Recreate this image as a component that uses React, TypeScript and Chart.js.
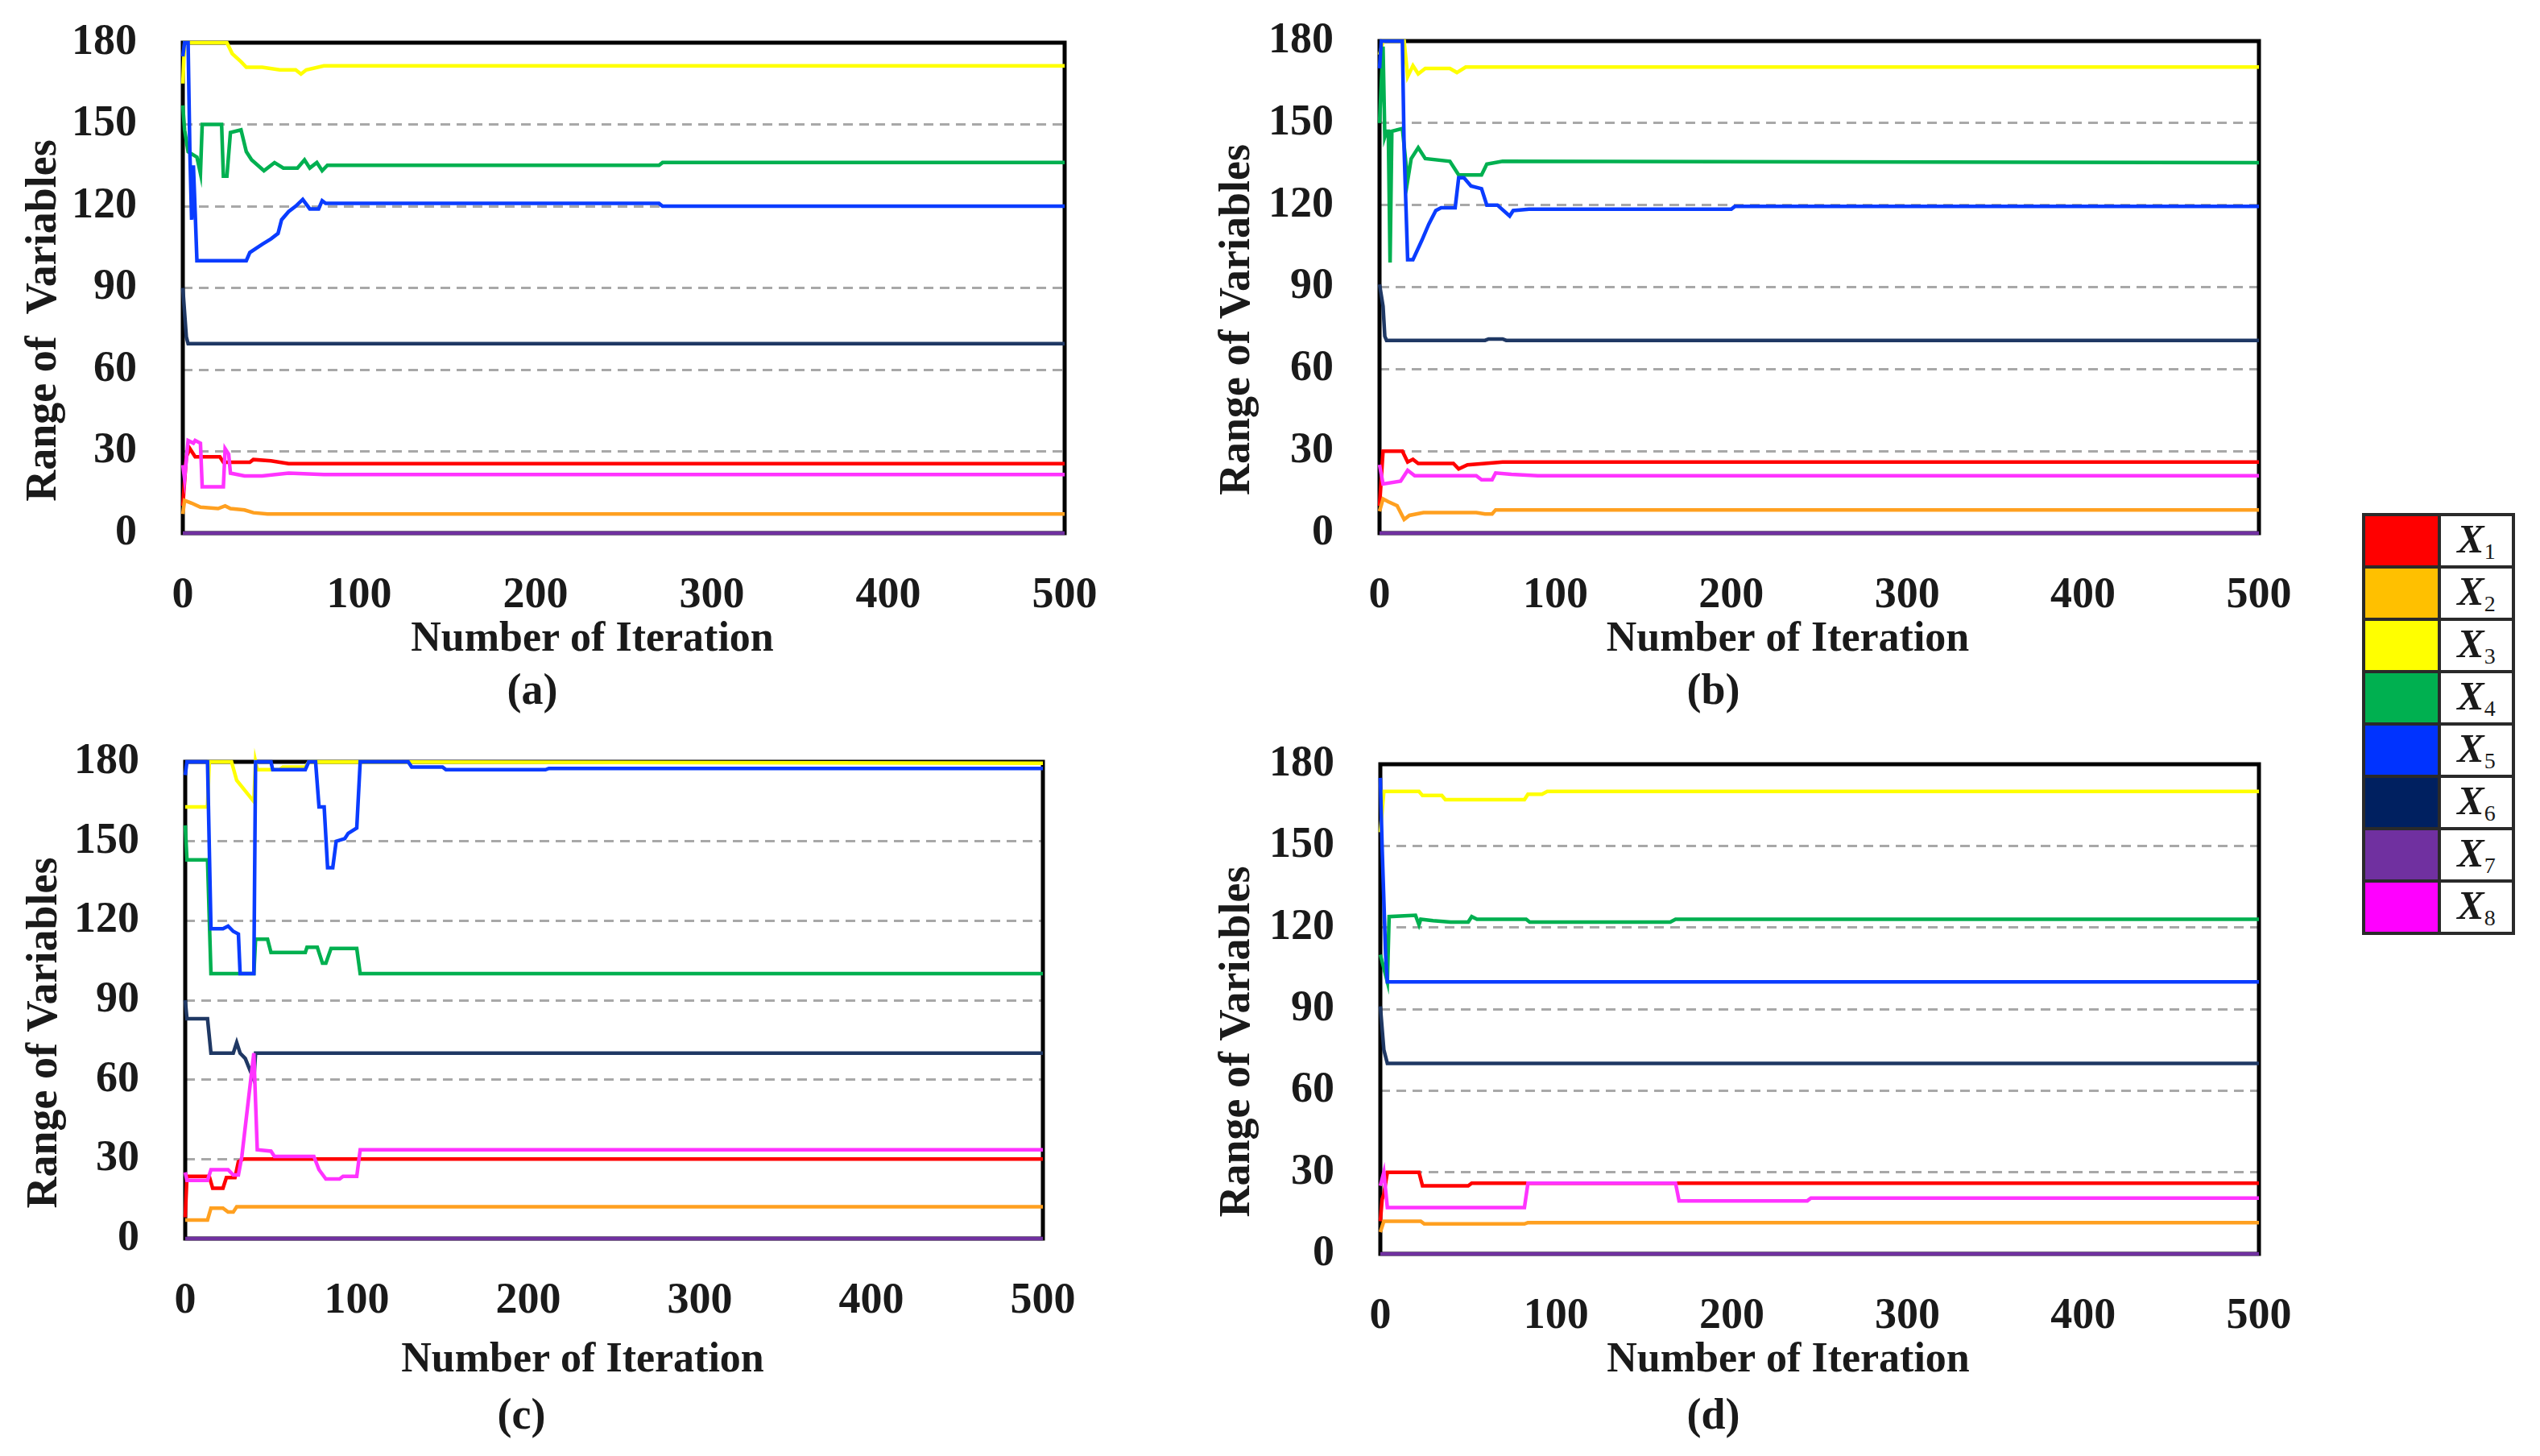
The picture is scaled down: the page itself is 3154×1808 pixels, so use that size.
import { useEffect, useRef } from "react"
import { Chart, registerables } from "chart.js"

Chart.register(...registerables)

type Pt = [number, number]

const FONT = "'Liberation Serif', 'Times New Roman', serif"

const seriesNames = ["X", "X", "X", "X", "X", "X", "X", "X"]
const seriesSubs = ["1", "2", "3", "4", "5", "6", "7", "8"]
const lineColors = ["#FF0000", "#FFA020", "#FFFF00", "#00B050", "#0A3CFF", "#1F3864", "#7030A0", "#FF33FF"]
const swatchColors = ["#FF0000", "#FFC000", "#FFFF00", "#00B050", "#0033FF", "#002060", "#7030A0", "#FF00FF"]
const xTickValues = [0, 100, 200, 300, 400, 500]
const yTickValues = [0, 30, 60, 90, 120, 150, 180]

// (a)
const aX1: Pt[] = [[0, 10], [2, 28], [4, 31], [7, 28], [21, 28], [23, 26], [38, 26], [40, 27], [50, 26.5], [60, 25.5], [500, 25.5]]
const aX2: Pt[] = [[0, 7], [1, 12], [5, 11], [10, 9.5], [20, 9], [24, 10], [27, 9], [35, 8.5], [40, 7.5], [48, 7], [500, 7]]
const aX3: Pt[] = [[0, 165], [1, 180], [25, 180], [28, 176], [33, 173], [36, 171], [45, 171], [55, 170], [64, 170], [67, 168.5], [70, 170], [80, 171.5], [500, 171.5]]
const aX4: Pt[] = [[0, 157], [1, 148], [3, 140], [8, 138], [10, 132], [11, 150], [22, 150], [23, 131], [25, 131], [27, 147], [33, 148], [36, 140], [39, 137], [46, 133], [52, 136], [57, 134], [65, 134], [69, 137], [72, 134], [76, 136], [79, 133], [82, 135], [270, 135], [272, 136], [500, 136]]
const aX5: Pt[] = [[0, 175], [1, 180], [3, 180], [4, 140], [5, 115], [6, 135], [7, 118], [8, 100], [36, 100], [38, 103], [45, 106], [50, 108], [54, 110], [56, 115], [60, 118], [64, 120], [68, 122.5], [72, 119], [77, 119], [79, 122], [81, 121], [270, 121], [272, 120], [500, 120]]
const aX6: Pt[] = [[0, 90], [2, 72], [3, 69.5], [500, 69.5]]
const aX7: Pt[] = [[0, 0], [500, 0]]
const aX8: Pt[] = [[0, 25], [1, 20], [3, 34], [6, 33], [7, 34], [10, 33], [11, 17], [23, 17], [24, 31], [26, 29], [27, 22], [35, 21], [45, 21], [60, 22], [80, 21.5], [500, 21.5]]

// (b)
const bX1: Pt[] = [[0, 10], [2, 30], [13, 30], [16, 26], [19, 27], [22, 25.5], [42, 25.5], [45, 23.5], [50, 25], [60, 25.5], [70, 26], [500, 26]]
const bX2: Pt[] = [[0, 8], [2, 12.5], [5, 11.5], [10, 10], [14, 5], [17, 6.5], [25, 7.5], [55, 7.5], [60, 7], [64, 7], [66, 8.5], [500, 8.5]]
const bX3: Pt[] = [[0, 175], [2, 180], [14, 180], [16, 167], [19, 171], [22, 168], [26, 170], [40, 170], [44, 168.5], [49, 170.5], [500, 170.5]]
const bX4: Pt[] = [[0, 150], [1, 165], [2, 178], [3, 145], [4, 147], [5, 147], [6, 99], [7, 147], [13, 148], [16, 129], [18, 137], [22, 141], [26, 137], [40, 136], [45, 131], [58, 131], [61, 135], [70, 136], [500, 135.5]]
const bX5: Pt[] = [[0, 170], [1, 180], [13, 180], [14, 140], [16, 100], [19, 100], [24, 107], [28, 113], [32, 118], [35, 119], [43, 119], [45, 130], [48, 130], [52, 127], [58, 126], [61, 120], [67, 120], [74, 116], [76, 118], [85, 118.5], [200, 118.5], [202, 119.5], [500, 119.5]]
const bX6: Pt[] = [[0, 91], [2, 83], [3, 72], [4, 70.5], [60, 70.5], [62, 71], [70, 71], [72, 70.5], [500, 70.5]]
const bX7: Pt[] = [[0, 0], [500, 0]]
const bX8: Pt[] = [[0, 25], [2, 18], [12, 19], [16, 23], [20, 21], [55, 21], [58, 19.5], [64, 19.5], [66, 22], [75, 21.5], [90, 21], [500, 21]]

// (c)
const cX1: Pt[] = [[0, 8], [1, 23.5], [14, 23.5], [16, 19], [22, 19], [24, 23], [29, 23], [31, 29], [34, 30], [500, 30]]
const cX2: Pt[] = [[0, 7], [13, 7], [15, 11.5], [22, 11.5], [25, 10], [28, 10], [30, 12], [500, 12]]
const cX3: Pt[] = [[0, 163], [13, 163], [14, 180], [27, 180], [30, 173], [40, 165], [41, 180], [42, 177], [55, 177], [57, 178], [70, 178], [72, 180], [500, 179.5]]
const cX4: Pt[] = [[0, 156], [1, 143], [13, 143], [15, 100], [40, 100], [41, 113], [48, 113], [50, 108], [70, 108], [71, 110], [77, 110], [80, 104], [82, 104], [85, 109.5], [100, 109.5], [102, 100], [500, 100]]
const cX5: Pt[] = [[0, 175], [1, 180], [13, 180], [15, 117], [22, 117], [25, 118], [28, 116], [31, 115], [32, 100], [40, 100], [41, 180], [50, 180], [51, 177], [70, 177], [72, 180], [76, 180], [78, 163], [81, 163], [83, 140], [86, 140], [88, 150], [93, 151], [95, 153], [100, 155], [102, 180], [130, 180], [132, 178], [150, 178], [152, 177], [210, 177], [212, 177.5], [500, 177.5]]
const cX6: Pt[] = [[0, 90], [1, 83], [13, 83], [15, 70], [28, 70], [30, 74], [32, 70], [35, 68], [40, 60], [41, 70], [500, 70]]
const cX7: Pt[] = [[0, 0], [500, 0]]
const cX8: Pt[] = [[0, 25], [1, 22], [13, 22], [15, 26], [25, 26], [28, 24], [31, 24], [33, 31], [40, 70], [42, 33.5], [50, 33], [52, 31], [75, 31], [78, 26], [82, 22.5], [90, 22.5], [92, 23.5], [100, 23.5], [102, 33.5], [500, 33.5]]

// (d)
const dX1: Pt[] = [[0, 12], [1, 20], [2, 22], [4, 30], [22, 30], [24, 25], [50, 25], [52, 26], [500, 26]]
const dX2: Pt[] = [[0, 8], [2, 12], [23, 12], [25, 11], [82, 11], [84, 11.5], [500, 11.5]]
const dX3: Pt[] = [[0, 155], [2, 170], [22, 170], [24, 168.5], [35, 168.5], [37, 167], [82, 167], [84, 169], [92, 169], [95, 170], [500, 170]]
const dX4: Pt[] = [[0, 110], [4, 100], [5, 124], [20, 124.5], [22, 121], [23, 123], [30, 122.5], [40, 122], [50, 122], [52, 124], [55, 123], [83, 123], [85, 122], [165, 122], [168, 123], [500, 123]]
const dX5: Pt[] = [[0, 175], [1, 150], [3, 110], [4, 100], [500, 100]]
const dX6: Pt[] = [[0, 91], [2, 75], [4, 70], [500, 70]]
const dX7: Pt[] = [[0, 0], [500, 0]]
const dX8: Pt[] = [[0, 25], [2, 30], [4, 17], [82, 17], [84, 26], [168, 26], [170, 19.5], [243, 19.5], [245, 20.5], [500, 20.5]]

const xTitle = "Number of Iteration"
const yTitleA = "Range of  Variables"
const yTitle = "Range of Variables"

interface PanelSpec {
  caption: string
  yTitle: string
  series: Pt[][]
  left: number
  top: number
  w: number
  h: number
  plotLeft: number
  plotTop: number
  plotRight: number
  plotBottom: number
  xTitleY: number
  yTitleX: number
}

const panels: PanelSpec[] = [
  { caption: "(a)", yTitle: yTitleA, series: [aX1, aX2, aX3, aX4, aX5, aX6, aX7, aX8], left: 0, top: 0, w: 1400, h: 900, plotLeft: 227, plotTop: 53, plotRight: 1322, plotBottom: 662, xTitleY: 795, yTitleX: 55 },
  { caption: "(b)", yTitle: yTitle, series: [bX1, bX2, bX3, bX4, bX5, bX6, bX7, bX8], left: 1450, top: 0, w: 1480, h: 900, plotLeft: 263, plotTop: 51, plotRight: 1355, plotBottom: 662, xTitleY: 795, yTitleX: 87 },
  { caption: "(c)", yTitle: yTitle, series: [cX1, cX2, cX3, cX4, cX5, cX6, cX7, cX8], left: 0, top: 900, w: 1416, h: 900, plotLeft: 230, plotTop: 46, plotRight: 1295, plotBottom: 638, xTitleY: 790, yTitleX: 56 },
  { caption: "(d)", yTitle: yTitle, series: [dX1, dX2, dX3, dX4, dX5, dX6, dX7, dX8], left: 1450, top: 900, w: 1480, h: 900, plotLeft: 264, plotTop: 49, plotRight: 1355, plotBottom: 657, xTitleY: 790, yTitleX: 87 },
]

// black box round the plot area, under the lines
const framePlugin = {
  id: "frame",
  beforeDatasetsDraw(chart: Chart) {
    const { ctx, chartArea } = chart
    ctx.save()
    ctx.strokeStyle = "#000"
    ctx.lineWidth = 5
    ctx.strokeRect(chartArea.left, chartArea.top, chartArea.right - chartArea.left, chartArea.bottom - chartArea.top)
    ctx.restore()
  },
}

function Panel({ p }: { p: PanelSpec }) {
  const chartRef = useRef<HTMLCanvasElement>(null)

  useEffect(() => {
    if (!chartRef.current) return

    const tickSize = 54
    const captionSize = 54
    const xTitleSize = 52
    const yTitleSize = 54
    const captionLH = captionSize * 1.2
    const captionPad = p.h - 860 - captionLH / 2
    const captionTop = p.h - captionLH - captionPad
    const xAxisHeight = captionTop - p.plotBottom
    const xTitlePad = captionTop - p.xTitleY - (xTitleSize * 1.2) / 2
    const yTitlePad = p.yTitleX - (yTitleSize * 1.2) / 2
    const yMin = yTickValues[0]
    const yMax = yTickValues[yTickValues.length - 1]
    const clear = "rgba(0,0,0,0)"

    const chart = new Chart(chartRef.current, {
      type: "line",
      data: {
        datasets: p.series.map((s, i) => ({
          label: seriesNames[i] + seriesSubs[i],
          data: s.map(([x, y]) => ({ x, y })),
          borderColor: lineColors[i],
          backgroundColor: lineColors[i],
          borderWidth: 4.5,
          pointRadius: 0,
          tension: 0,
          clip: false as any,
          order: 8 - i,
        })),
      },
      options: {
        animation: false,
        responsive: false,
        devicePixelRatio: 1,
        layout: { padding: { top: p.plotTop, right: p.w - p.plotRight, left: 0, bottom: 0 } },
        scales: {
          x: {
            type: "linear",
            min: xTickValues[0],
            max: xTickValues[xTickValues.length - 1],
            afterFit: (s: any) => {
              s.height = xAxisHeight
            },
            ticks: {
              stepSize: xTickValues[1] - xTickValues[0],
              padding: 0,
              maxRotation: 0,
              color: "#1a1a1a",
              font: { family: FONT, size: tickSize, weight: "bold" },
            },
            // invisible tick marks keep the labels away from the plot
            grid: { display: true, drawOnChartArea: false, drawTicks: true, tickLength: 46, tickColor: clear, color: clear },
            border: { display: false },
            title: {
              display: true,
              // trailing spaces push the title left of the plot centre, as in the figure
              text: xTitle + "      ",
              color: "#1a1a1a",
              padding: { top: 0, bottom: xTitlePad },
              font: { family: FONT, size: xTitleSize, weight: "bold" },
            },
          },
          y: {
            min: yMin,
            max: yMax,
            afterFit: (s: any) => {
              s.width = p.plotLeft
            },
            ticks: {
              stepSize: yTickValues[1] - yTickValues[0],
              padding: 0,
              color: "#1a1a1a",
              font: { family: FONT, size: tickSize, weight: "bold" },
            },
            grid: {
              drawTicks: true,
              tickLength: 57,
              tickColor: clear,
              lineWidth: 3,
              color: (c: any) =>
                c.tick && (c.tick.value === yMin || c.tick.value === yMax) ? clear : "#a8a8a8",
            },
            border: { display: false, dash: [12, 8] },
            title: {
              display: true,
              text: p.yTitle + "      ",
              color: "#1a1a1a",
              padding: { top: yTitlePad, bottom: 0 },
              font: { family: FONT, size: yTitleSize, weight: "bold" },
            },
          },
        },
        plugins: {
          legend: { display: false },
          tooltip: { enabled: false },
          title: {
            display: true,
            text: p.caption,
            position: "bottom",
            color: "#1a1a1a",
            padding: { top: 0, bottom: captionPad },
            font: { family: FONT, size: captionSize, weight: "bold" },
          },
        },
      },
      plugins: [framePlugin],
    })

    return () => {
      chart.destroy()
    }
  }, [p])

  return (
    <canvas
      ref={chartRef}
      width={p.w}
      height={p.h}
      style={{ position: "absolute", left: p.left, top: p.top, width: p.w, height: p.h }}
    />
  )
}

function Legend() {
  return (
    <table
      style={{
        position: "absolute",
        left: 2933,
        top: 637,
        borderCollapse: "collapse",
        border: "4px solid #2a2a2a",
      }}
    >
      <tbody>
        {seriesNames.map((n, i) => (
          <tr key={i}>
            <td
              style={{
                width: 90,
                height: 61,
                padding: 0,
                background: swatchColors[i],
                border: "4px solid #2a2a2a",
              }}
            />
            <td
              style={{
                width: 88,
                height: 61,
                padding: 0,
                border: "4px solid #2a2a2a",
                textAlign: "center",
                fontFamily: FONT,
                fontWeight: "bold",
                fontStyle: "italic",
                fontSize: 50,
                lineHeight: 1,
                color: "#1a1a1a",
              }}
            >
              {n}
              <sub style={{ fontSize: 28, verticalAlign: "-0.3em", fontStyle: "normal", fontWeight: "normal" }}>
                {seriesSubs[i]}
              </sub>
            </td>
          </tr>
        ))}
      </tbody>
    </table>
  )
}

export default function App() {
  return (
    <div
      style={{
        position: "absolute",
        left: 0,
        top: 0,
        width: 3154,
        height: 1808,
        background: "#fff",
        overflow: "hidden",
      }}
    >
      {panels.map((p) => (
        <Panel key={p.caption} p={p} />
      ))}
      <Legend />
    </div>
  )
}
